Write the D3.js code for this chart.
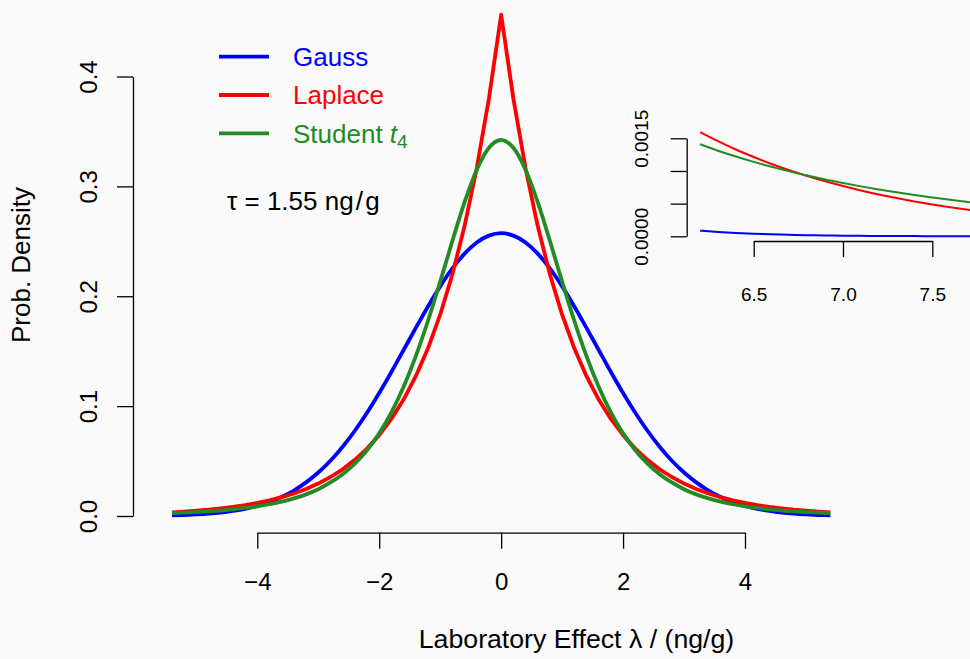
<!DOCTYPE html>
<html>
<head>
<meta charset="utf-8">
<script src="https://cdn.jsdelivr.net/npm/d3@7"></script>
<style>
  html, body { margin: 0; padding: 0; background: #fafafa; }
  svg { display: block; font-family: "Liberation Sans", Arial, Helvetica, sans-serif; }
</style>
</head>
<body>
<svg id="chart" width="970" height="659"></svg>
<script>
// Laboratory effect grid (ng/g) for the main panel
const lambda = [
  -5.4, -5.2, -5.0, -4.8, -4.6, -4.4, -4.2, -4.0, -3.8, -3.6, -3.4, -3.2, -3.0, -2.8,
  -2.6, -2.4, -2.2, -2.0, -1.8, -1.6, -1.4, -1.2, -1.0, -0.8, -0.6, -0.4, -0.2, 0.0,
  0.2, 0.4, 0.6, 0.8, 1.0, 1.2, 1.4, 1.6, 1.8, 2.0, 2.2, 2.4, 2.6, 2.8,
  3.0, 3.2, 3.4, 3.6, 3.8, 4.0, 4.2, 4.4, 4.6, 4.8, 5.0, 5.2, 5.4
];

// Densities with tau = 1.55 ng/g
const gauss = [
  0.0006, 0.0009, 0.0014, 0.0021, 0.0031, 0.0046, 0.0065, 0.0092, 0.0127, 0.0173, 0.0232, 0.0306, 0.0396, 0.0503,
  0.0630, 0.0776, 0.0940, 0.1120, 0.1311, 0.1511, 0.1712, 0.1907, 0.2090, 0.2253, 0.2388, 0.2490, 0.2552, 0.2574,
  0.2552, 0.2490, 0.2388, 0.2253, 0.2090, 0.1907, 0.1712, 0.1511, 0.1311, 0.1120, 0.0940, 0.0776, 0.0630, 0.0503,
  0.0396, 0.0306, 0.0232, 0.0173, 0.0127, 0.0092, 0.0065, 0.0046, 0.0031, 0.0021, 0.0014, 0.0009, 0.0006
];
const laplace = [
  0.0033, 0.0040, 0.0048, 0.0057, 0.0069, 0.0082, 0.0099, 0.0119, 0.0142, 0.0171, 0.0205, 0.0246, 0.0295, 0.0355,
  0.0425, 0.0511, 0.0613, 0.0736, 0.0883, 0.1060, 0.1272, 0.1526, 0.1832, 0.2199, 0.2639, 0.3167, 0.3801, 0.4562,
  0.3801, 0.3167, 0.2639, 0.2199, 0.1832, 0.1526, 0.1272, 0.1060, 0.0883, 0.0736, 0.0613, 0.0511, 0.0425, 0.0355,
  0.0295, 0.0246, 0.0205, 0.0171, 0.0142, 0.0119, 0.0099, 0.0082, 0.0069, 0.0057, 0.0048, 0.0040, 0.0033
];
const studentT4 = [
  0.0026, 0.0030, 0.0036, 0.0042, 0.0050, 0.0060, 0.0073, 0.0088, 0.0107, 0.0130, 0.0160, 0.0197, 0.0244, 0.0305,
  0.0381, 0.0477, 0.0599, 0.0753, 0.0943, 0.1176, 0.1455, 0.1777, 0.2133, 0.2503, 0.2856, 0.3152, 0.3351, 0.3422,
  0.3351, 0.3152, 0.2856, 0.2503, 0.2133, 0.1777, 0.1455, 0.1176, 0.0943, 0.0753, 0.0599, 0.0477, 0.0381, 0.0305,
  0.0244, 0.0197, 0.0160, 0.0130, 0.0107, 0.0088, 0.0073, 0.0060, 0.0050, 0.0042, 0.0036, 0.0030, 0.0026
];

// Right tail, shown in the inset
const tailLambda = [6.2, 6.3, 6.4, 6.5, 6.6, 6.7, 6.8, 6.9, 7.0, 7.1, 7.2, 7.3, 7.4, 7.5, 7.6, 7.7, 7.8, 7.9, 8.0];
const tailGauss = [
  0.0000863, 0.0000666, 0.0000511, 0.0000391, 0.0000297, 0.0000226, 0.0000170, 0.0000128, 0.0000096, 0.0000072,
  0.0000053, 0.0000039, 0.0000029, 0.0000021, 0.0000015, 0.0000011, 0.0000008, 0.0000006, 0.0000004
];
const tailLaplace = [
  0.001595, 0.001456, 0.001329, 0.001213, 0.001107, 0.001011, 0.000923, 0.000842, 0.000769, 0.000702,
  0.000640, 0.000585, 0.000534, 0.000487, 0.000445, 0.000406, 0.000370, 0.000338, 0.000309
];
const tailStudentT4 = [
  0.001409, 0.001310, 0.001221, 0.001139, 0.001064, 0.000994, 0.000930, 0.000870, 0.000815, 0.000764,
  0.000717, 0.000673, 0.000632, 0.000594, 0.000559, 0.000526, 0.000496, 0.000467, 0.000441
];

// Axis ticks
const xTicks = [-4, -2, 0, 2, 4];
const yTicks = [0, 0.1, 0.2, 0.3, 0.4];
const insetXTicks = [6.5, 7.0, 7.5];
const insetYTicks = [0, 0.0005, 0.001, 0.0015];
const insetYLabelled = [0, 0.0015];

const seriesNames = ["Gauss", "Laplace", "Student"];
const tauText = "\u03C4 = 1.55 ng\u200A/\u200Ag";

const colors = { Gauss: "#0000ff", Laplace: "#ff0000", Student: "#228b22" };

const svg = d3.select("#chart");
svg.append("rect").attr("width", 970).attr("height", 659).attr("fill", "#fafafa");

// ---------- main panel ----------
const x = d3.scaleLinear().domain([-4, 4]).range([257.3, 745]);
const y = d3.scaleLinear().domain([0, 0.4]).range([516, 76.5]);

function styleAxis(g, fontSize) {
  g.select(".domain").attr("stroke", "#000").attr("stroke-width", 1.3);
  g.selectAll(".tick line").attr("stroke", "#000").attr("stroke-width", 1.3);
  g.selectAll(".tick text").attr("fill", "#000").attr("font-size", fontSize)
    .attr("font-family", "Liberation Sans, Arial, Helvetica, sans-serif");
}

const gx = svg.append("g").attr("transform", "translate(0,532.7)")
  .call(d3.axisBottom(x).tickValues(xTicks).tickFormat(d3.format("d"))
    .tickSize(16).tickSizeOuter(0).tickPadding(24));
styleAxis(gx, 24);

const gy = svg.append("g").attr("transform", "translate(133,0)")
  .call(d3.axisLeft(y).tickValues(yTicks).tickFormat(d3.format(".1f"))
    .tickSize(16).tickSizeOuter(0));
styleAxis(gy, 24);
gy.selectAll(".tick text")
  .attr("transform", "rotate(-90)")
  .attr("x", 0).attr("y", -36).attr("dy", 0)
  .attr("text-anchor", "middle");

const mainSeries = [
  { name: "Gauss", values: gauss, curve: d3.curveMonotoneX },
  { name: "Laplace", values: laplace, curve: d3.curveLinear },
  { name: "Student", values: studentT4, curve: d3.curveMonotoneX }
];

mainSeries.forEach(s => {
  const line = d3.line().x((d, i) => x(lambda[i])).y(d => y(d)).curve(s.curve);
  svg.append("path")
    .datum(s.values)
    .attr("d", line)
    .attr("fill", "none")
    .attr("stroke", colors[s.name])
    .attr("stroke-width", 3.8)
    .attr("stroke-linejoin", "round");
});

// axis titles
svg.append("text")
  .attr("transform", "translate(30,265) rotate(-90)")
  .attr("text-anchor", "middle")
  .attr("font-size", 26)
  .attr("fill", "#000")
  .text("Prob. Density");

svg.append("text")
  .attr("x", 576.5).attr("y", 648)
  .attr("text-anchor", "middle")
  .attr("font-size", 26.7)
  .attr("fill", "#000")
  .text("Laboratory Effect \u03BB / (ng/g)");

// legend
const legendY = [56.7, 95, 133.3];
seriesNames.forEach((name, i) => {
  const ly = legendY[i];
  svg.append("line")
    .attr("x1", 219).attr("x2", 269).attr("y1", ly).attr("y2", ly)
    .attr("stroke", colors[name]).attr("stroke-width", 3.8);
  const t = svg.append("text")
    .attr("x", 293).attr("y", ly + 9.4)
    .attr("font-size", 26)
    .attr("fill", colors[name]);
  if (name === "Student") {
    t.append("tspan").text("Student ");
    t.append("tspan").attr("font-style", "italic").text("t");
    t.append("tspan").attr("font-size", 19).attr("dy", 5).text("4");
  } else {
    t.text(name);
  }
});

svg.append("text")
  .attr("x", 227).attr("y", 210)
  .attr("font-size", 26)
  .attr("fill", "#000")
  .text(tauText);

// ---------- inset: right tail ----------
const ix = d3.scaleLinear().domain([6.5, 7.5]).range([753.7, 932.3]);
const iy = d3.scaleLinear().domain([0, 0.0015]).range([236.3, 138.3]);

const gix = svg.append("g").attr("transform", "translate(0,241)")
  .call(d3.axisBottom(ix).tickValues(insetXTicks).tickFormat(d3.format(".1f"))
    .tickSize(16).tickSizeOuter(0).tickPadding(30));
styleAxis(gix, 19);
gix.selectAll(".tick text").attr("dy", 0).attr("y", 59.5);

const giy = svg.append("g").attr("transform", "translate(686.7,0)")
  .call(d3.axisLeft(iy).tickValues(insetYTicks)
    .tickFormat(d => insetYLabelled.includes(d) ? d3.format(".4f")(d) : "")
    .tickSize(16).tickSizeOuter(0));
styleAxis(giy, 19);
giy.selectAll(".tick text")
  .attr("transform", "rotate(-90)")
  .attr("x", 0).attr("y", -38.7).attr("dy", 0)
  .attr("text-anchor", "middle");

const insetSeries = [
  { name: "Gauss", values: tailGauss },
  { name: "Laplace", values: tailLaplace },
  { name: "Student", values: tailStudentT4 }
];
insetSeries.forEach(s => {
  const line = d3.line().x((d, i) => ix(tailLambda[i])).y(d => iy(d)).curve(d3.curveMonotoneX);
  svg.append("path")
    .datum(s.values)
    .attr("d", line)
    .attr("fill", "none")
    .attr("stroke", colors[s.name])
    .attr("stroke-width", 2);
});
</script>
</body>
</html>
